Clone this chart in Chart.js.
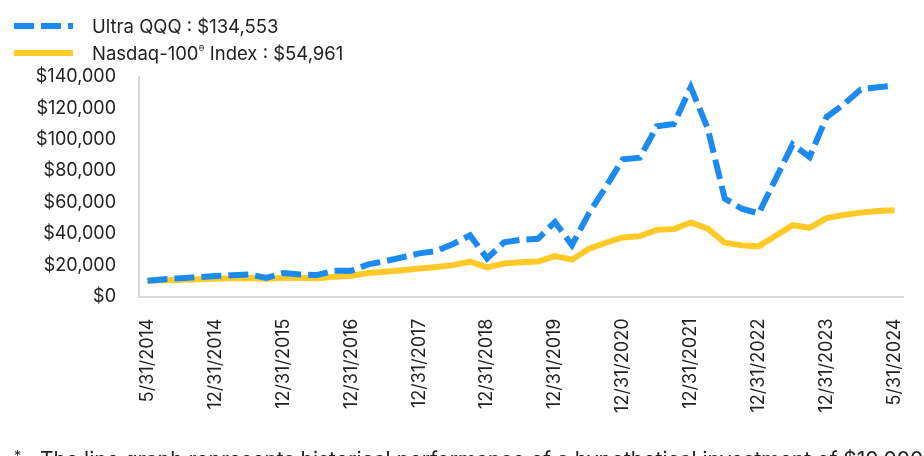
<!DOCTYPE html>
<html>
<head>
<meta charset="utf-8">
<script src="https://cdn.jsdelivr.net/npm/chart.js@4"></script>
<style>
  html, body { margin: 0; padding: 0; background: #fff; }
  body { width: 924px; height: 456px; position: relative; overflow: hidden; font-family: Inter, Lato, sans-serif; color: #222; }
  #wrap { position: absolute; left: 0; top: 0; width: 924px; height: 456px; }
  .legend-row { position: absolute; left: 14px; height: 20px; display: flex; align-items: center; font-size: 18.5px; }
  .swatch { width: 59px; height: 6px; margin-right: 19px; }
  .dash { background: repeating-linear-gradient(to right, #1B8BF2 0 20px, transparent 20px 27px); }
  .solid { background: #FFC928; }
  sup { font-size: 9px; vertical-align: 8px; }
  #note { position: absolute; left: 14px; top: 445px; font-size: 21px; line-height: 22px; white-space: nowrap; }
  #note .star { display: inline-block; width: 26px; font-size: 14px; vertical-align: 6px; }
</style>
</head>
<body>
<div id="wrap"><canvas id="chart" width="924" height="456"></canvas></div>
<div class="legend-row" style="top:16px"><div class="swatch dash"></div><span>Ultra QQQ : $134,553</span></div>
<div class="legend-row" style="top:43px"><div class="swatch solid"></div><span>Nasdaq-100<sup>®</sup> Index : $54,961</span></div>
<div id="note"><span class="star">*</span>The line graph represents historical performance of a hypothetical investment of $10,000</div>
<script>
const dates = [
  '5/31/2014', '6/30/2014', '9/30/2014', '11/30/2014', '12/31/2014',
  '3/31/2015', '6/30/2015', '9/30/2015', '12/31/2015',
  '3/31/2016', '6/30/2016', '9/30/2016', '12/31/2016',
  '3/31/2017', '6/30/2017', '9/30/2017', '12/31/2017',
  '3/31/2018', '6/30/2018', '9/30/2018', '12/31/2018',
  '3/31/2019', '6/30/2019', '9/30/2019', '12/31/2019',
  '3/31/2020', '6/30/2020', '9/30/2020', '12/31/2020',
  '3/31/2021', '6/30/2021', '9/30/2021', '12/31/2021',
  '3/31/2022', '6/30/2022', '9/30/2022', '12/31/2022',
  '3/31/2023', '6/30/2023', '9/30/2023', '12/31/2023',
  '2/29/2024', '3/31/2024', '4/30/2024', '5/31/2024'
];

const shownDates = ['5/31/2014', '12/31/2014', '12/31/2015', '12/31/2016', '12/31/2017', '12/31/2018',
  '12/31/2019', '12/31/2020', '12/31/2021', '12/31/2022', '12/31/2023', '5/31/2024'];

const ultraQQQ = [
  10000, 11000, 11700, 12400, 13000,
  13600, 14100, 11800, 15000,
  14100, 13700, 16400, 16400,
  20500, 22500, 25000, 27500,
  29000, 33500, 39000, 24300,
  34500, 36200, 36800, 47500,
  32800, 53000, 70000, 87500,
  88500, 108500, 110000, 133500,
  107000, 62500, 56000, 53000,
  75000, 97000, 89000, 114500,
  122500, 132000, 133500, 134553
];

const nasdaq100 = [
  10000, 10400, 10700, 11000, 11300,
  11600, 11800, 11300, 12000,
  11800, 11700, 12600, 13200,
  15000, 15800, 16800, 17800,
  18800, 20000, 22200, 18600,
  21000, 21800, 22300, 25800,
  23500, 30500, 34300, 37700,
  38500, 42500, 43000, 47300,
  43300, 34300, 32600, 32000,
  38800, 45500, 43800, 50000,
  52000, 53500, 54600, 54961
];

const yTicks = [0, 20000, 40000, 60000, 80000, 100000, 120000, 140000];

const font = { family: 'Inter, Lato, sans-serif', size: 18 };

new Chart(document.getElementById('chart'), {
  type: 'line',
  data: {
    labels: dates,
    datasets: [
      {
        label: 'Ultra QQQ',
        data: ultraQQQ,
        borderColor: '#1B8BF2',
        borderWidth: 6,
        borderDash: [20, 7],
        pointRadius: 0,
        tension: 0,
        fill: false
      },
      {
        label: 'Nasdaq-100 Index',
        data: nasdaq100,
        borderColor: '#FFC928',
        borderWidth: 6,
        pointRadius: 0,
        tension: 0,
        fill: false
      }
    ]
  },
  options: {
    responsive: false,
    animation: false,
    layout: { padding: { top: 77, right: 21, bottom: 0, left: 0 } },
    plugins: { legend: { display: false }, tooltip: { enabled: false } },
    scales: {
      x: {
        offset: true,
        grid: { display: false, drawTicks: false },
        border: { display: true, color: '#d9d9d9', width: 2 },
        ticks: {
          autoSkip: false,
          minRotation: 90,
          maxRotation: 90,
          padding: 22,
          color: '#222',
          font: font,
          callback: function (value) {
            const lbl = this.getLabelForValue(value);
            return shownDates.includes(lbl) ? lbl : '';
          }
        },
        afterFit: s => { s.height = 159.5; s.paddingLeft = 0; s.paddingRight = 0; }
      },
      y: {
        min: 0,
        max: 140000,
        grid: { display: false, drawTicks: false },
        border: { display: true, color: '#d9d9d9', width: 2 },
        afterBuildTicks: s => { s.ticks = yTicks.map(v => ({ value: v })); },
        ticks: {
          padding: 23,
          color: '#222',
          font: font,
          callback: v => '$' + v.toLocaleString('en-US')
        },
        afterFit: s => { s.width = 139; s.paddingTop = 0; s.paddingBottom = 0; }
      }
    }
  }
});
</script>
</body>
</html>
